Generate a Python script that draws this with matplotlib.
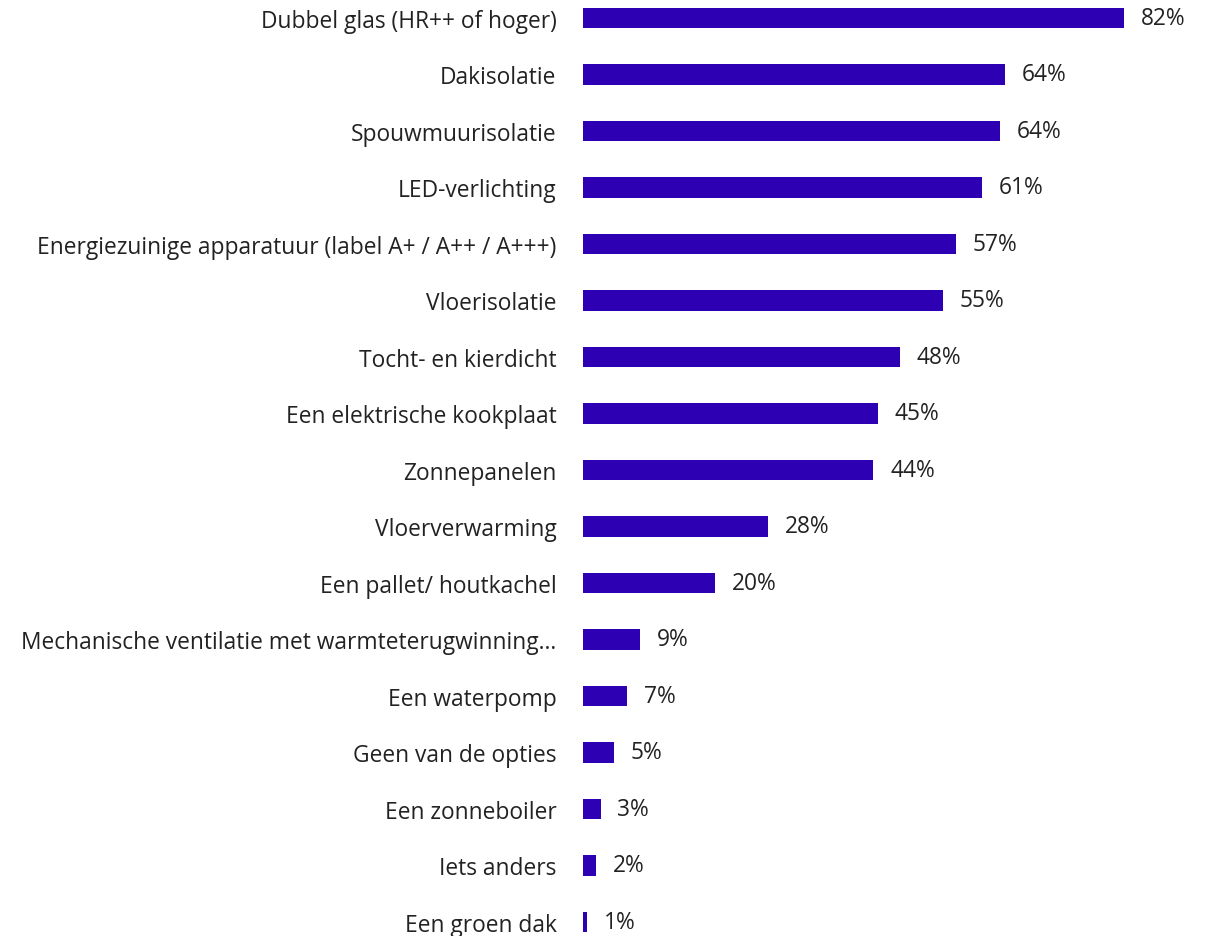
import matplotlib.pyplot as plt

labels = [
    "Dubbel glas (HR++ of hoger)",
    "Dakisolatie",
    "Spouwmuurisolatie",
    "LED-verlichting",
    "Energiezuinige apparatuur (label A+ / A++ / A+++)",
    "Vloerisolatie",
    "Tocht- en kierdicht",
    "Een elektrische kookplaat",
    "Zonnepanelen",
    "Vloerverwarming",
    "Een pallet/ houtkachel",
    "Mechanische ventilatie met warmteterugwinning...",
    "Een waterpomp",
    "Geen van de opties",
    "Een zonneboiler",
    "Iets anders",
    "Een groen dak",
]
values = [82, 64, 63.2, 60.5, 56.5, 54.5, 48, 44.7, 44, 28, 20, 8.7, 6.7, 4.7, 2.7, 2, 0.6]
value_labels = ["82%", "64%", "64%", "61%", "57%", "55%", "48%", "45%", "44%",
                "28%", "20%", "9%", "7%", "5%", "3%", "2%", "1%"]

plt.rcParams['font.family'] = ['Open Sans', 'DejaVu Sans']

W, H = 1211, 937
fig = plt.figure(figsize=(W / 100, H / 100), dpi=100)
ax = fig.add_axes([583 / W, 0, (W - 583) / W, 1])

pos = list(range(len(labels)))
ax.barh(pos, values, height=0.355, color="#2D00B3")

# top bar centre ~20 px from the top, 56.6 px between bars
ax.set_xlim(0, (W - 583) / 6.6)
ax.set_ylim((H - 19) / 56.5, -19 / 56.5)

ax.set_yticks(pos)
ax.set_yticklabels(labels, fontsize=16.4, color="#222222")
ax.tick_params(axis="y", length=0, pad=19)
ax.set_xticks([])
for s in ax.spines.values():
    s.set_visible(False)

for p, v, t in zip(pos, values, value_labels):
    ax.annotate(t, (v, p), xytext=(12, 0), textcoords="offset points",
                va="center", ha="left", fontsize=16.4, color="#222222")

fig.savefig("out.png", dpi=100)
